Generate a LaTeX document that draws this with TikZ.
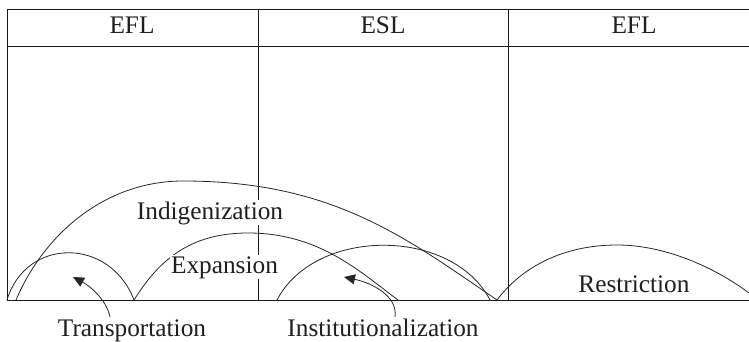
\documentclass[tikz,border=0pt]{standalone}
\usepackage{fontspec}
\setmainfont{Liberation Serif}
\usetikzlibrary{arrows.meta}
\begin{document}
\begin{tikzpicture}[x=1pt,y=-1pt,
  frame/.style={line width=1pt, draw=black!90},
  arcline/.style={line width=0.8pt, draw=black!85},
  lbl/.style={font=\fontsize{25.3}{30}\selectfont, text=black!88, inner sep=0pt, anchor=base},
  mask/.style={lbl, fill=white, inner sep=1pt},
  pointer/.style={line width=0.8pt, draw=black!85, -{Triangle[length=11pt,width=10pt]}}]
\useasboundingbox (0,0) rectangle (749,342);
% frame
\coordinate (TL) at (7,10);
\coordinate (TR) at (749,10);
\coordinate (HL) at (7,47);
\coordinate (HR) at (749,47);
\coordinate (BL) at (7,300);
\coordinate (BR) at (749,300);
\coordinate (D1t) at (258,10);
\coordinate (D1b) at (258,300);
\coordinate (D2t) at (508,10);
\coordinate (D2b) at (508,300);
\draw[frame] (TR) -- (TL) -- (BL) -- (BR);
\draw[frame] (HL) -- (HR);
\draw[frame] (D1t) -- (D1b);
\draw[frame] (D2t) -- (D2b);
% arcs
\draw[arcline] (7,300) .. controls (26,237) and (110,237) .. (134,300);
\draw[arcline] (16,300) .. controls (45,232) and (107,181) .. (183,181)
  .. controls (333,181) and (406,238) .. (497,300);
\draw[arcline] (134,300) .. controls (158,262) and (188,233) .. (248,233)
  .. controls (318,233) and (358,270) .. (398,300);
\draw[arcline] (277,300) .. controls (315,227) and (452,227) .. (490,300);
\draw[arcline] (497,300) .. controls (521,268) and (562,245) .. (617,245)
  .. controls (667,245) and (717,269) .. (749,293);
% header labels
\node[lbl] (efl1) at (132,34) {EFL};
\node[lbl] (esl) at (383,34) {ESL};
\node[lbl] (efl2) at (634,34) {EFL};
% inner labels
\node[mask] (indig) at (210,219) {Indigenization};
\node[mask] (expan) at (224.5,273) {Expansion};
\node[lbl] (restr) at (634,292) {Restriction};
% bottom labels
\node[lbl] (transp) at (132,336) {Transportation};
\node[lbl] (instit) at (383,336) {Institutionalization};
% arrows
\coordinate (tailT) at (110,317);
\coordinate (tipT) at (73,277);
\coordinate (tailI) at (395,317);
\coordinate (tipI) at (344,277);
\draw[pointer] (tailT) .. controls (106,298) and (88,285) .. (tipT);
\draw[pointer] (tailI) .. controls (398,296) and (372,283) .. (tipI);
\end{tikzpicture}
\end{document}
